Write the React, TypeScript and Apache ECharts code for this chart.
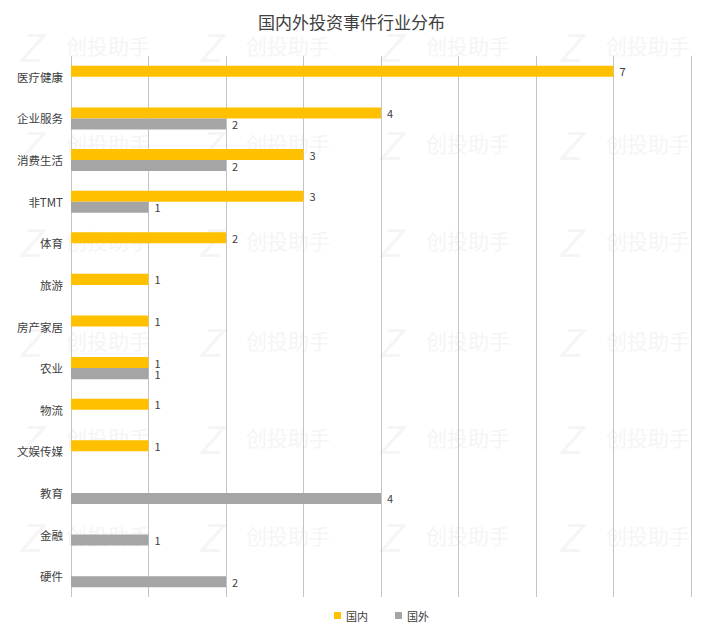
import React, { useEffect, useRef } from "react";
import * as echarts from "echarts";

const categories = ["医疗健康", "企业服务", "消费生活", "非TMT", "体育", "旅游", "房产家居", "农业", "物流", "文娱传媒", "教育", "金融", "硬件"];
const domestic = [7, 4, 3, 3, 2, 1, 1, 1, 1, 1, null, null, null];
const foreign = [null, 2, 2, 1, null, null, null, 1, null, null, 4, 1, 2];
const seriesNames = ["国内", "国外"];
const watermarkText = "创投助手";
const watermarkRows = [45, 143, 240, 340, 437, 535];
const watermarkCols = [18, 198, 378, 558];

export default function App() {
  const ref = useRef<HTMLDivElement>(null);
  useEffect(() => {
    if (!ref.current) return;
    const chart = echarts.init(ref.current, undefined, { renderer: "svg" });
    const font = "'Noto Sans CJK SC', 'Noto Sans', sans-serif";
    const wm: any[] = [];
    watermarkRows.forEach((y) => {
      watermarkCols.forEach((x) => {
        wm.push({
          type: "text",
          x: x,
          y: y,
          z: -10,
          silent: true,
          style: { text: "Z", fill: "#f5f5f5", font: "italic 38px " + font, verticalAlign: "middle", align: "left" },
        });
        wm.push({
          type: "text",
          x: x + 48,
          y: y,
          z: -10,
          silent: true,
          style: { text: watermarkText, fill: "#f5f5f5", font: "21px " + font, verticalAlign: "middle", align: "left" },
        });
      });
    });
    chart.setOption({
      animation: false,
      backgroundColor: "#ffffff",
      textStyle: { fontFamily: font },
      graphic: wm,
      title: {
        text: "国内外投资事件行业分布",
        left: "center",
        top: 8,
        textStyle: { fontSize: 17, fontWeight: "normal", color: "#404040", fontFamily: font },
      },
      legend: {
        data: seriesNames,
        left: 329,
        top: 605,
        itemWidth: 7,
        itemHeight: 7,
        itemGap: 27,
        icon: "rect",
        textStyle: { fontSize: 11, color: "#404040", fontFamily: font },
      },
      grid: { left: 71, right: 12, top: 56, bottom: 31, containLabel: false },
      xAxis: {
        type: "value",
        min: 0,
        max: 8,
        interval: 1,
        axisLabel: { show: false },
        axisLine: { show: false },
        axisTick: { show: false },
        splitLine: { show: true, lineStyle: { color: "#c4c4c4", width: 1 } },
      },
      yAxis: {
        type: "category",
        data: categories,
        inverse: true,
        axisLine: { show: false },
        axisTick: { show: false },
        axisLabel: { fontSize: 11.5, color: "#404040", margin: 8, fontFamily: font },
      },
      series: [
        {
          name: seriesNames[0],
          type: "bar",
          data: domestic,
          barGap: "0%",
          barCategoryGap: "47%",
          itemStyle: { color: "#FFC000" },
          label: { show: true, position: "right", distance: 6, fontSize: 11, color: "#404040", fontFamily: font },
        },
        {
          name: seriesNames[1],
          type: "bar",
          data: foreign,
          barGap: "0%",
          barCategoryGap: "47%",
          itemStyle: { color: "#A5A5A5" },
          label: { show: true, position: "right", distance: 6, fontSize: 11, color: "#404040", fontFamily: font },
        },
      ],
    });
    return () => chart.dispose();
  }, []);
  return <div ref={ref} style={{ width: 703, height: 628, position: "absolute", left: 0, top: 0 }} />;
}
